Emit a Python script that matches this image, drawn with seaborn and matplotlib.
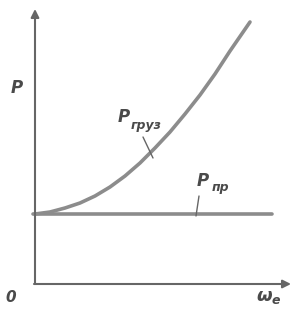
import numpy as np
import pandas as pd
import matplotlib.pyplot as plt
import seaborn as sns

# data (units: arbitrary, origin at axes corner)
omega = [0, 15, 30, 45, 60, 75, 90, 105, 120, 135, 150, 165, 180, 195, 215]
p_gruz = [70, 72, 76, 81, 88, 97, 108, 121, 136, 152, 170, 189, 210, 233, 262]
omega_pr = [-2, 237]
p_pr = [70, 70]

sns.set_style("white")

line_col = "#8c8c8c"
axis_col = "#666666"
text_col = "#4a4a4a"

fig = plt.figure(figsize=(2.93, 3.09), dpi=100)
ax = fig.add_axes([0, 0, 1, 1])

df_gruz = pd.DataFrame({"omega": omega, "P": p_gruz})
df_pr = pd.DataFrame({"omega": omega_pr, "P": p_pr})

sns.lineplot(data=df_pr, x="omega", y="P", ax=ax, color=line_col, linewidth=2.6)
sns.lineplot(data=df_gruz, x="omega", y="P", ax=ax, color=line_col, linewidth=2.6,
             solid_capstyle="round")

ax.set_xlim(-35, 258)
ax.set_ylim(-25, 284)
ax.axis("off")

# axes with arrows
ax.annotate("", xy=(0, 275), xytext=(0, 0),
            arrowprops=dict(arrowstyle="-|>", color=axis_col, lw=1.5,
                            mutation_scale=12, shrinkA=0, shrinkB=0))
ax.annotate("", xy=(256, 0), xytext=(-1, 0),
            arrowprops=dict(arrowstyle="-|>", color=axis_col, lw=1.5,
                            mutation_scale=12, shrinkA=0, shrinkB=0))

# labels
kw = dict(color=text_col, style="italic", weight="semibold", family="DejaVu Sans")
ax.text(-18, 196, "P", fontsize=12, ha="center", va="center", **kw)
ax.text(-24, -13, "0", fontsize=11, ha="center", va="center", **kw)
ax.text(229, -12, "ω", fontsize=13, ha="center", va="center", **kw)
ax.text(241, -16, "e", fontsize=9, ha="center", va="center", **kw)

ax.text(89, 167, "P", fontsize=12, ha="center", va="center", **kw)
ax.text(111, 159, "груз", fontsize=9, ha="center", va="center", **kw)
ax.plot([108, 118], [147, 126], color=axis_col, lw=1)

ax.text(168, 103, "P", fontsize=12, ha="center", va="center", **kw)
ax.text(185, 96, "пр", fontsize=9, ha="center", va="center", **kw)
ax.plot([164, 161], [88, 68], color=axis_col, lw=1)

plt.savefig("out.png", dpi=100)
